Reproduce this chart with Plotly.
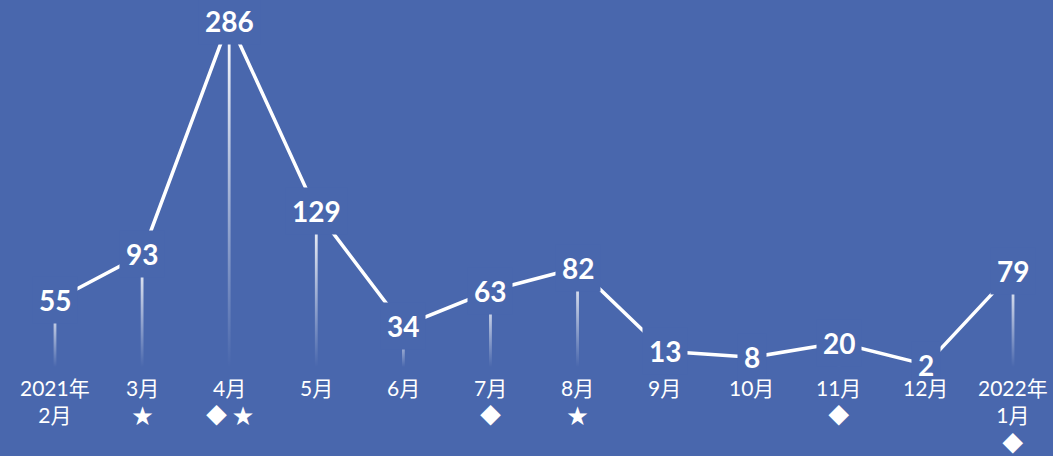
import plotly.graph_objects as go

# ---- data ----
months = ["2021年<br>2月", "3月", "4月", "5月", "6月", "7月", "8月", "9月", "10月", "11月", "12月", "2022年<br>1月"]
marks = ["", "★", "◆ ★", "", "", "◆", "★", "", "", "◆", "", "◆"]
values = [55, 93, 286, 129, 34, 63, 82, 13, 8, 20, 2, 79]

BG = "#4967AD"
xs = list(range(len(values)))
ticktext = [m + ("<br>" + k if k else "") for m, k in zip(months, marks)]

fig = go.Figure()

# thin gradient drop bars (one polygon per category, gradient relative to its height)
hw = 0.016
for x, v in zip(xs, values):
    fig.add_trace(go.Scatter(
        x=[x - hw, x + hw, x + hw, x - hw, x - hw],
        y=[0, 0, v, v, 0],
        mode="none", fill="toself",
        fillgradient=dict(type="vertical",
                          colorscale=[[0, "rgba(255,255,255,0)"], [1, "rgba(255,255,255,1)"]]),
        hoverinfo="skip", showlegend=False))

# main line
fig.add_trace(go.Scatter(x=xs, y=values, mode="lines",
                         line=dict(color="white", width=3.5),
                         showlegend=False, hoverinfo="skip"))

# data labels with background boxes (cover the line)
for x, v in zip(xs, values):
    fig.add_annotation(x=x, y=v, text=str(v), showarrow=False,
                       xanchor="center", yanchor="middle",
                       bgcolor=BG, borderpad=6,
                       font=dict(family="Lato, Noto Sans", size=28, color="white", weight="bold"))

# category labels (drawn after data labels so they stay on top)
for x, t in zip(xs, ticktext):
    fig.add_annotation(x=x, xref="x", y=0, yref="paper", yanchor="top", yshift=-6,
                       text=t, showarrow=False, align="center", xanchor="center",
                       font=dict(family="Lato, Noto Sans CJK JP", size=21, color="white"))

fig.update_layout(
    width=1053, height=456,
    margin=dict(l=0, r=0, t=0, b=89),
    paper_bgcolor=BG, plot_bgcolor=BG,
    showlegend=False,
    xaxis=dict(range=[-0.6315, 11.459], showticklabels=False,
               showgrid=False, zeroline=False, showline=False, ticks="", automargin=False),
    yaxis=dict(range=[0, 303.3], visible=False, showgrid=False, zeroline=False, automargin=False),
)

fig.write_html("out.html", config={"displayModeBar": False},
               post_script="document.body.style.margin='0';document.body.style.background='%s';" % BG)
